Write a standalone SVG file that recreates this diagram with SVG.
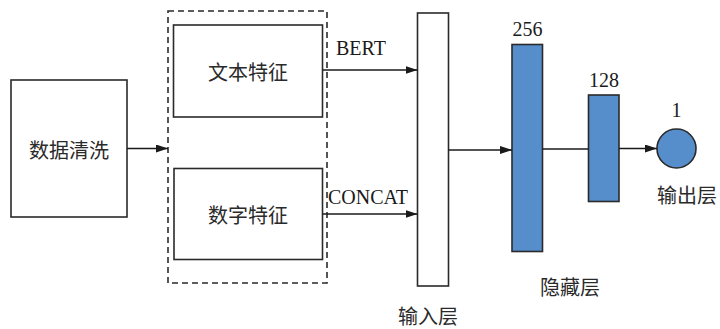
<svg xmlns="http://www.w3.org/2000/svg" width="720" height="329" viewBox="0 0 720 329">
<defs>
<style>
.box{fill:#fff;stroke:#2a2a2a;stroke-width:1.6}
.blue{fill:#558ecb;stroke:#2a2a2a;stroke-width:1.6}
.dash{fill:none;stroke:#2a2a2a;stroke-width:1.6;stroke-dasharray:6 4}
.cn{font-family:"Noto Sans CJK SC","Noto Sans",sans-serif;font-size:20px;fill:#2a2a2a;text-anchor:middle;dominant-baseline:central}
.en{font-family:"Liberation Serif",serif;font-size:20px;fill:#1a1a1a}
.mid{text-anchor:middle}
.line{fill:none;stroke:#1a1a1a;stroke-width:1.4}
</style>
<marker id="arr" markerWidth="12" markerHeight="8" refX="12" refY="4" orient="auto" markerUnits="userSpaceOnUse">
<path d="M0,0 L12,4 L0,8 Z" fill="#1a1a1a"/>
</marker>
</defs>
<rect width="720" height="329" fill="#fff"/>
<g id="clean">
<rect class="box" x="11" y="80" width="116" height="137"/>
<text class="cn" x="69" y="149">数据清洗</text>
</g>
<g id="features">
<rect class="dash" x="168" y="11" width="159" height="272"/>
</g>
<g id="text-feat">
<rect class="box" x="173.5" y="25" width="149" height="92"/>
<text class="cn" x="248" y="71">文本特征</text>
</g>
<g id="num-feat">
<rect class="box" x="174" y="168.5" width="148.5" height="91"/>
<text class="cn" x="248" y="214">数字特征</text>
</g>
<g id="input">
<rect class="box" x="417.5" y="13" width="31" height="273"/>
<text class="cn" x="428" y="315.5">输入层</text>
</g>
<g id="h256">
<rect class="blue" x="512" y="44.5" width="30.5" height="207"/>
<text class="en mid" x="527.5" y="36">256</text>
</g>
<g id="h128">
<rect class="blue" x="588.5" y="95" width="30.5" height="106.5"/>
<text class="en mid" x="604" y="87">128</text>
</g>
<g id="hidden-label">
<text class="cn" x="570" y="286">隐藏层</text>
</g>
<g id="output">
<circle class="blue" cx="676.5" cy="148.5" r="19.5"/>
<text class="en mid" x="676.5" y="117">1</text>
<text class="cn" x="687" y="194">输出层</text>
</g>
<g id="connectors">
<line class="line" x1="127" y1="148.5" x2="168" y2="148.5" marker-end="url(#arr)"/>
<line class="line" x1="322.5" y1="70" x2="417.5" y2="70" marker-end="url(#arr)"/>
<text class="en" x="336" y="55">BERT</text>
<line class="line" x1="322.5" y1="214" x2="417.5" y2="214" marker-end="url(#arr)"/>
<text class="en" x="328" y="204">CONCAT</text>
<line class="line" x1="448.5" y1="150" x2="512" y2="150" marker-end="url(#arr)"/>
<line class="line" x1="542.5" y1="149" x2="588.5" y2="149"/>
<line class="line" x1="619" y1="148.5" x2="657" y2="148.5" marker-end="url(#arr)"/>
</g>
</svg>
